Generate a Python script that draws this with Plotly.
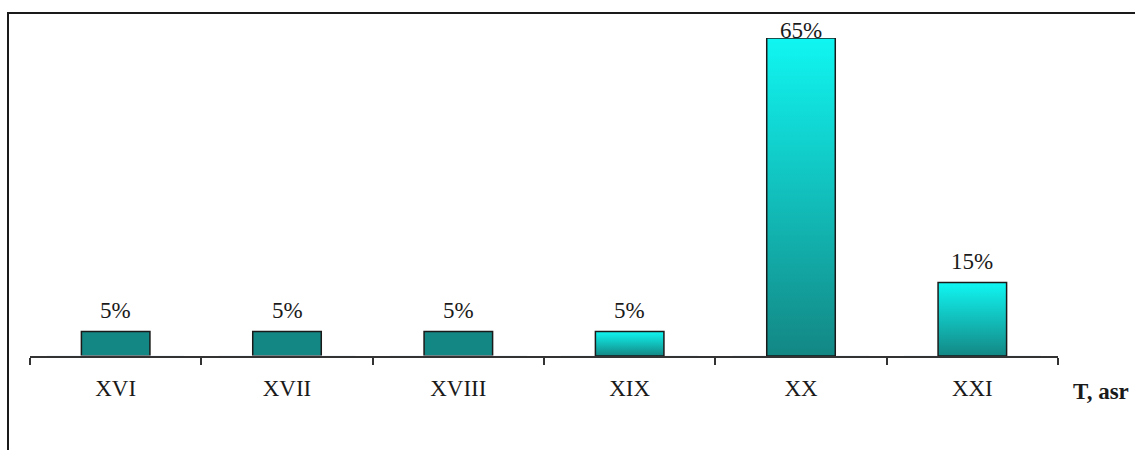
import plotly.graph_objects as go

categories = ["XVI", "XVII", "XVIII", "XIX", "XX", "XXI"]
values = [5, 5, 5, 5, 65, 15]
labels = ["5%", "5%", "5%", "5%", "65%", "15%"]
axis_title = "T, asr"

# style configuration
gradient_idx = [3, 4, 5]
TEAL = "#138784"
CYAN = "#10F6F2"
BAR_W = 0.4
FONT = "Liberation Serif, Times New Roman, serif"

fig = go.Figure()

# solid bars
solid = [i for i in range(len(categories)) if i not in gradient_idx]
fig.add_trace(go.Bar(
    x=[categories[i] for i in solid],
    y=[values[i] for i in solid],
    width=BAR_W,
    marker=dict(color=TEAL, line=dict(color="#1a1a1a", width=1.5)),
    hoverinfo="skip",
    showlegend=False,
))
# invisible bars to keep category order
fig.add_trace(go.Bar(
    x=categories, y=[0] * len(categories), marker_color="rgba(0,0,0,0)",
    showlegend=False, hoverinfo="skip",
))

# gradient bars drawn as filled rectangles on an overlaying numeric axis
for i in gradient_idx:
    v = values[i]
    xs = [i - BAR_W / 2, i + BAR_W / 2, i + BAR_W / 2, i - BAR_W / 2, i - BAR_W / 2]
    ys = [0, 0, v, v, 0]
    fig.add_trace(go.Scatter(
        x=xs, y=ys, xaxis="x2", mode="lines", fill="toself",
        fillgradient=dict(type="vertical", colorscale=[[0, TEAL], [1, CYAN]]),
        line=dict(color="#1a1a1a", width=1.5),
        hoverinfo="skip", showlegend=False,
    ))

# value labels
vmax = max(values)
for c, v, t in zip(categories, values, labels):
    fig.add_annotation(
        x=c, y=v, text=t, showarrow=False, yanchor="middle",
        yshift=21 if v < vmax else 8,
        font=dict(family=FONT, size=23, color="#1a1a1a"),
    )

fig.add_annotation(
    xref="paper", yref="paper", x=1.042, y=-0.113, text="<b>" + axis_title + "</b>",
    showarrow=False, xanchor="center", yanchor="middle",
    font=dict(family=FONT, size=23, color="#1a1a1a"),
)

# outer frame (left and top edges visible)
fig.add_shape(type="rect", xref="paper", yref="paper",
              x0=-0.0214, y0=-0.35, x1=1.12, y1=1.0786,
              line=dict(color="#1a1a1a", width=2))

fig.update_layout(
    width=1135, height=450,
    margin=dict(l=30, r=77, t=38, b=94),
    paper_bgcolor="white", plot_bgcolor="white",
    barmode="overlay",
    xaxis=dict(
        type="category", range=[-0.5, 5.5], categoryorder="array", categoryarray=categories,
        showline=True, linecolor="#333333", linewidth=1.5,
        ticks="outside", tickson="boundaries", ticklen=7, tickcolor="#333333", tickwidth=1.5,
        tickfont=dict(family=FONT, size=23, color="#1a1a1a"),
        ticklabelstandoff=11,
        showgrid=False, zeroline=False,
    ),
    xaxis2=dict(overlaying="x", range=[-0.5, 5.5], visible=False, showgrid=False, zeroline=False),
    yaxis=dict(range=[0, 65], visible=False, showgrid=False, zeroline=False),
)

fig.write_html("out.html")
